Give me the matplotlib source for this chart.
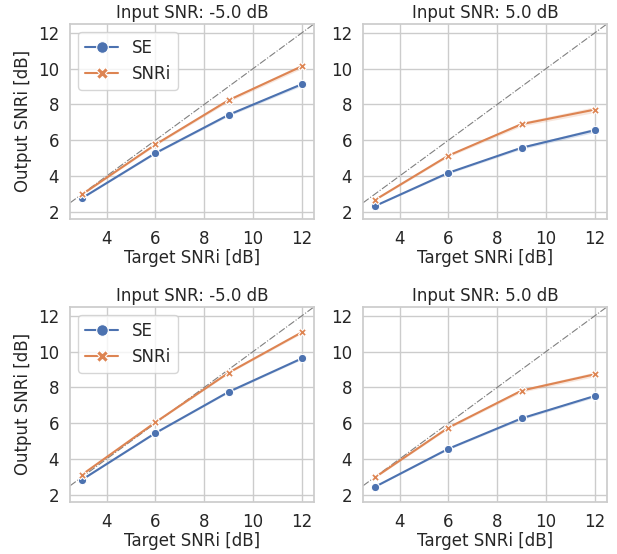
import numpy as np
import matplotlib
matplotlib.use('Agg')
import matplotlib.pyplot as plt
import seaborn as sns

sns.set_theme(style='whitegrid')
plt.rcParams['font.family'] = ['DejaVu Sans']

# Data
target = [3, 6, 9, 12]
titles = ['Input SNR: -5.0 dB', 'Input SNR: 5.0 dB',
          'Input SNR: -5.0 dB', 'Input SNR: 5.0 dB']

se_vals = [
    [2.77, 5.28, 7.42, 9.13],
    [2.33, 4.18, 5.58, 6.56],
    [2.85, 5.45, 7.75, 9.62],
    [2.45, 4.57, 6.27, 7.52],
]
snri_vals = [
    [2.98, 5.76, 8.24, 10.13],
    [2.67, 5.14, 6.90, 7.71],
    [3.13, 6.05, 8.82, 11.08],
    [2.98, 5.75, 7.82, 8.73],
]
# confidence band half-widths
se_ci = [
    [0.03, 0.05, 0.07, 0.09],
    [0.03, 0.06, 0.08, 0.12],
    [0.03, 0.04, 0.05, 0.06],
    [0.03, 0.05, 0.07, 0.08],
]
snri_ci = [
    [0.04, 0.06, 0.09, 0.12],
    [0.04, 0.07, 0.11, 0.16],
    [0.03, 0.04, 0.05, 0.07],
    [0.04, 0.06, 0.09, 0.13],
]

blue = '#4C72B0'
orange = '#DD8452'

fig, axes = plt.subplots(2, 2, figsize=(6.17, 5.54), dpi=100)
fig.subplots_adjust(left=0.1135, right=0.984, top=0.957, bottom=0.094,
                    wspace=0.2, hspace=0.45)

for i, ax in enumerate(axes.flat):
    ax.plot([2.5, 12.5], [2.5, 12.5], linestyle='-.', color='gray', lw=0.8)
    se = np.array(se_vals[i])
    sn = np.array(snri_vals[i])
    ax.fill_between(target, se - np.array(se_ci[i]), se + np.array(se_ci[i]),
                    color=blue, alpha=0.2, lw=0)
    ax.fill_between(target, sn - np.array(snri_ci[i]), sn + np.array(snri_ci[i]),
                    color=orange, alpha=0.2, lw=0)
    ax.plot(target, se, color=blue, marker='o', markersize=6,
            markeredgecolor='white', markeredgewidth=0.8, lw=1.5, label='SE')
    ax.plot(target, sn, color=orange, marker='X', markersize=6,
            markeredgecolor='white', markeredgewidth=0.8, lw=1.5, label='SNRi')
    ax.set_xlim(2.5, 12.5)
    ax.set_ylim(1.6, 12.5)
    ax.set_xticks([4, 6, 8, 10, 12])
    ax.set_yticks([2, 4, 6, 8, 10, 12])
    ax.tick_params(labelsize=12, pad=2)
    ax.set_title(titles[i], fontsize=12, pad=4)
    ax.set_xlabel('Target SNRi [dB]', fontsize=12, labelpad=1)
    if i % 2 == 0:
        ax.set_ylabel('Output SNRi [dB]', fontsize=12)
        ax.legend(loc='upper left', fontsize=12, markerscale=1.4)

plt.savefig('out.png', dpi=100)
